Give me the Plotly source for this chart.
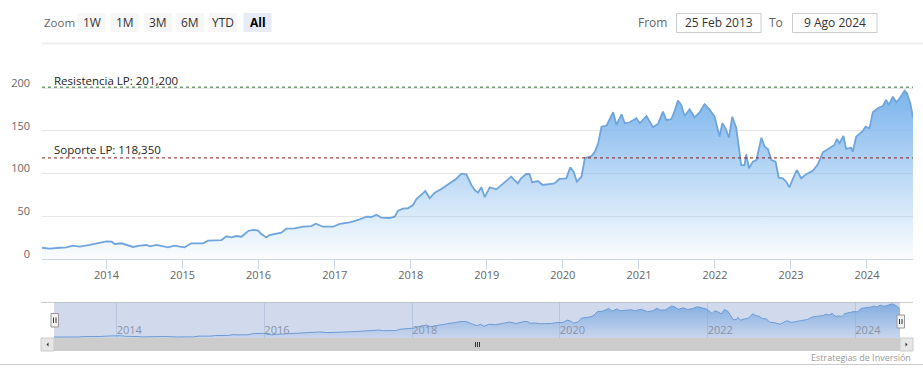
import plotly.graph_objects as go

W, H = 923, 379

# ---------------- data ----------------
dates = [
    "2013-02-25", "2013-04-03", "2013-05-21", "2013-06-22", "2013-07-24", "2013-08-25",
    "2013-10-12", "2013-11-30", "2014-01-01", "2014-01-25", "2014-02-10", "2014-03-14",
    "2014-04-07", "2014-05-08", "2014-06-10", "2014-07-12", "2014-07-28", "2014-08-29",
    "2014-10-23", "2014-11-24", "2014-12-18", "2015-01-11", "2015-02-12", "2015-04-10",
    "2015-05-03", "2015-07-07", "2015-07-31", "2015-08-24", "2015-09-17", "2015-10-11",
    "2015-11-12", "2015-12-05", "2015-12-29", "2016-01-14", "2016-02-07", "2016-02-23",
    "2016-04-19", "2016-05-14", "2016-06-23", "2016-08-02", "2016-09-11", "2016-10-02",
    "2016-11-06", "2016-12-24", "2017-01-25", "2017-03-14", "2017-04-23", "2017-06-03",
    "2017-06-27", "2017-07-20", "2017-08-13", "2017-09-22", "2017-10-16", "2017-11-01",
    "2017-11-25", "2017-12-18", "2018-01-12", "2018-01-28", "2018-02-28", "2018-03-12",
    "2018-04-02", "2018-04-26", "2018-05-28", "2018-06-21", "2018-07-15", "2018-08-08",
    "2018-09-01", "2018-09-25", "2018-10-19", "2018-11-04", "2018-11-20", "2018-12-06",
    "2018-12-22", "2019-01-15", "2019-02-16", "2019-03-19", "2019-04-28", "2019-05-30",
    "2019-06-15", "2019-07-09", "2019-07-25", "2019-08-07", "2019-09-03", "2019-09-27",
    "2019-10-21", "2019-11-22", "2019-12-16", "2020-01-18", "2020-02-06", "2020-02-22",
    "2020-03-09", "2020-03-31", "2020-04-16", "2020-05-18", "2020-06-03", "2020-06-19",
    "2020-07-05", "2020-07-29", "2020-08-30", "2020-09-15", "2020-10-09", "2020-10-25",
    "2020-11-18", "2020-12-20", "2021-01-05", "2021-02-06", "2021-03-09", "2021-04-02",
    "2021-04-26", "2021-05-12", "2021-06-05", "2021-06-21", "2021-07-07", "2021-07-23",
    "2021-08-08", "2021-09-01", "2021-09-25", "2021-10-19", "2021-11-12", "2021-12-06",
    "2021-12-30", "2022-01-23", "2022-02-05", "2022-02-21", "2022-03-09", "2022-03-25",
    "2022-04-13", "2022-05-07", "2022-05-23", "2022-05-31", "2022-06-13", "2022-07-02",
    "2022-07-19", "2022-08-12", "2022-08-28", "2022-09-12", "2022-09-29", "2022-10-19",
    "2022-11-03", "2022-11-23", "2022-12-09", "2022-12-25", "2023-01-10", "2023-01-29",
    "2023-02-19", "2023-03-15", "2023-04-16", "2023-05-10", "2023-06-03", "2023-07-05",
    "2023-07-29", "2023-08-09", "2023-08-22", "2023-09-10", "2023-09-23", "2023-10-17",
    "2023-10-25", "2023-11-10", "2023-12-12", "2023-12-25", "2024-01-13", "2024-01-29",
    "2024-02-22", "2024-03-17", "2024-04-02", "2024-04-15", "2024-05-04", "2024-05-21",
    "2024-06-06", "2024-06-30", "2024-07-11", "2024-07-27", "2024-08-09",
]
values = [
    13.2, 12.1, 13.2, 13.7, 15.6, 14.4,
    16.4, 19.5, 20.7, 20.3, 17.6, 18.4,
    16.4, 14.1, 15.6, 16.4, 14.9, 16.4,
    13.7, 15.6, 14.4, 13.7, 18.4, 18.4,
    21.4, 22.2, 26.6, 25.4, 26.9, 26.1,
    32.8, 34.0, 33.6, 29.3, 25.2, 28.1,
    30.8, 35.5, 35.9, 37.8, 38.6, 41.3,
    37.8, 37.8, 41.0, 43.0, 45.7, 49.5,
    49.2, 51.9, 48.4, 48.0, 49.5, 56.6,
    58.9, 59.4, 63.2, 70.3, 76.9, 79.6,
    71.1, 77.6, 82.0, 86.3, 89.8, 94.0,
    99.9, 99.2, 86.7, 80.8, 77.6, 84.0,
    72.5, 84.0, 81.6, 87.8, 96.4, 88.6,
    94.5, 99.5, 99.5, 89.8, 91.3, 86.7,
    87.8, 88.6, 93.7, 94.5, 107.4, 102.2,
    90.5, 96.4, 117.9, 120.6, 125.6, 135.5,
    154.9, 156.1, 171.8, 156.9, 169.4, 158.9,
    160.1, 164.8, 158.9, 167.4, 154.2, 158.1,
    172.5, 162.8, 163.6, 173.3, 185.4, 180.3,
    167.4, 175.3, 165.9, 171.5, 181.3, 174.9,
    166.6, 143.2, 158.9, 153.0, 142.0, 166.6,
    153.7, 110.0, 110.0, 122.6, 106.2, 113.9,
    115.9, 142.0, 131.5, 128.8, 115.9, 113.9,
    95.2, 94.5, 90.5, 84.0, 93.7, 104.2,
    94.5, 99.2, 103.4, 110.9, 124.9, 130.3,
    133.5, 140.5, 135.5, 144.0, 128.8, 130.3,
    125.6, 143.2, 149.9, 154.9, 153.0, 171.8,
    176.5, 179.2, 186.2, 180.3, 190.0, 183.5,
    188.2, 197.0, 194.0, 182.3, 165.5,
]

resistance_value = 201.2
support_value = 118.35
resistance_label = "Resistencia LP: 201,200"
support_label = "Soporte LP: 118,350"
y_tick_values = [0, 50, 100, 150, 200]
main_tick_dates = ["2014-01-01", "2015-01-01", "2016-01-01", "2017-01-01", "2018-01-01",
                   "2019-01-01", "2020-01-01", "2021-01-01", "2022-01-01", "2023-01-01",
                   "2024-01-01"]
main_tick_labels = ["2014", "2015", "2016", "2017", "2018", "2019", "2020", "2021",
                    "2022", "2023", "2024"]
nav_tick_dates = ["2014-01-01", "2016-01-01", "2018-01-01", "2020-01-01", "2022-01-01",
                  "2024-01-01"]
nav_tick_labels = ["2014", "2016", "2018", "2020", "2022", "2024"]
zoom_buttons = ["1W", "1M", "3M", "6M", "YTD", "All"]
range_from = "25 Feb 2013"
range_to = "9 Ago 2024"
start_date = "2013-02-25"
end_date = "2024-08-09"
credits_text = "Estrategias de Inversión"

FONT = "Open Sans"


def fx(p):
    return p / W


def fy(p):
    return 1 - p / H


LINE_COLOR = "#6fa5dc"
grad = dict(type="vertical", start=0, stop=195,
            colorscale=[[0, "rgba(124,181,236,0.03)"], [1, "rgba(124,181,236,1)"]])

fig = go.Figure()
fig.add_trace(go.Scatter(
    x=dates, y=values, mode="lines", fill="tozeroy", fillgradient=grad,
    line=dict(color=LINE_COLOR, width=1.8), hoverinfo="skip", xaxis="x", yaxis="y",
    showlegend=False))
fig.add_trace(go.Scatter(
    x=dates, y=values, mode="lines", fill="tozeroy",
    fillgradient=dict(type="vertical", start=0, stop=195,
                      colorscale=[[0, "rgba(124,181,236,0.05)"], [1, "rgba(124,181,236,0.85)"]]),
    line=dict(color=LINE_COLOR, width=1), hoverinfo="skip", xaxis="x2", yaxis="y2",
    showlegend=False))

shapes = []
annotations = []

# toolbar separator line
shapes.append(dict(type="line", xref="paper", yref="paper", x0=fx(42), x1=fx(923),
                   y0=fy(43.5), y1=fy(43.5), line=dict(color="#eeeeee", width=2)))

# zoom label
annotations.append(dict(xref="paper", yref="paper", x=fx(42), y=fy(22.5), text="Zoom",
                        showarrow=False, xanchor="left", yanchor="middle",
                        font=dict(family=FONT, size=11.5, color="#666666")))
btn_centers = [91.5, 124.5, 158, 190, 223, 257.5]
for label, cx in zip(zoom_buttons, btn_centers):
    active = label == "All"
    shapes.append(dict(type="rect", xref="paper", yref="paper",
                       x0=fx(cx - 14), x1=fx(cx + 14), y0=fy(32), y1=fy(13),
                       fillcolor="#e6ebf5" if active else "#f7f7f7", line=dict(width=0),
                       layer="below"))
    annotations.append(dict(xref="paper", yref="paper", x=fx(cx), y=fy(22.5),
                            text="<b>%s</b>" % label if active else label, showarrow=False,
                            xanchor="center", yanchor="middle",
                            font=dict(family=FONT, size=12,
                                      color="#000000" if active else "#333333")))

# from / to inputs
annotations.append(dict(xref="paper", yref="paper", x=fx(669), y=fy(22.5), text="From",
                        showarrow=False, xanchor="right", yanchor="middle",
                        font=dict(family=FONT, size=12, color="#666666")))
annotations.append(dict(xref="paper", yref="paper", x=fx(784.5), y=fy(22.5), text="To",
                        showarrow=False, xanchor="right", yanchor="middle",
                        font=dict(family=FONT, size=12, color="#666666")))
for (x0, x1, txt) in [(676.5, 761, range_from), (792.5, 877, range_to)]:
    shapes.append(dict(type="rect", xref="paper", yref="paper", x0=fx(x0), x1=fx(x1),
                       y0=fy(32.5), y1=fy(13.5), fillcolor="#ffffff",
                       line=dict(color="#cccccc", width=1)))
    annotations.append(dict(xref="paper", yref="paper", x=fx((x0 + x1) / 2), y=fy(22.5),
                            text=txt, showarrow=False, xanchor="center", yanchor="middle",
                            font=dict(family=FONT, size=12, color="#333333")))

# plot lines
for val, col, lab, ys in [(resistance_value, "#2f6b2f", resistance_label, -3),
                          (support_value, "#8a1c1c", support_label, -1)]:
    shapes.append(dict(type="line", xref="x domain", yref="y", x0=0, x1=1, y0=val, y1=val,
                       line=dict(color=col, width=1, dash="dot"), layer="above"))
    annotations.append(dict(xref="paper", yref="y", x=fx(51.5), y=val, text=lab,
                            showarrow=False, xanchor="left", yanchor="bottom", yshift=ys,
                            font=dict(family=FONT, size=11.5, color="#222222")))

# navigator outline and mask
shapes.append(dict(type="line", xref="paper", yref="paper", x0=fx(41), x1=fx(913),
                   y0=fy(302.5), y1=fy(302.5), line=dict(color="#cccccc", width=1)))
shapes.append(dict(type="rect", xref="x2", yref="y2 domain", x0=start_date, x1=end_date,
                   y0=0, y1=1, fillcolor="rgba(102,133,194,0.3)", line=dict(width=0),
                   layer="above"))

# scrollbar
shapes.append(dict(type="rect", xref="paper", yref="paper", x0=fx(41), x1=fx(913),
                   y0=fy(351), y1=fy(338), fillcolor="#f2f2f2", line=dict(width=0)))
shapes.append(dict(type="rect", xref="paper", yref="paper", x0=fx(54), x1=fx(900),
                   y0=fy(351), y1=fy(338), fillcolor="#cccccc", line=dict(width=0)))
for bx0, bx1 in [(41, 54), (900, 913)]:
    shapes.append(dict(type="rect", xref="paper", yref="paper", x0=fx(bx0), x1=fx(bx1),
                       y0=fy(351), y1=fy(338), fillcolor="#e6e6e6",
                       line=dict(color="#cccccc", width=1)))
# arrows
shapes.append(dict(type="path", xref="paper", yref="paper",
                   path="M %f %f L %f %f L %f %f Z" % (fx(46.5), fy(344.5), fx(48.5), fy(342.5),
                                                      fx(48.5), fy(346.5)),
                   fillcolor="#333333", line=dict(width=0)))
shapes.append(dict(type="path", xref="paper", yref="paper",
                   path="M %f %f L %f %f L %f %f Z" % (fx(907.5), fy(344.5), fx(905.5), fy(342.5),
                                                      fx(905.5), fy(346.5)),
                   fillcolor="#333333", line=dict(width=0)))
# rifles
for rx in [475.5, 477.5, 479.5]:
    shapes.append(dict(type="line", xref="paper", yref="paper", x0=fx(rx), x1=fx(rx),
                       y0=fy(342), y1=fy(347), line=dict(color="#333333", width=1)))

# navigator handles
for hx0, hx1, hy0, hy1 in [(51, 58.5, 313.5, 327), (897, 904.5, 315, 328)]:
    shapes.append(dict(type="rect", xref="paper", yref="paper", x0=fx(hx0), x1=fx(hx1),
                       y0=fy(hy1), y1=fy(hy0), fillcolor="#f2f2f2",
                       line=dict(color="#999999", width=1)))
    for lx in [hx0 + 2.5, hx0 + 5]:
        shapes.append(dict(type="line", xref="paper", yref="paper", x0=fx(lx), x1=fx(lx),
                           y0=fy(hy0 + 4), y1=fy(hy1 - 4),
                           line=dict(color="#333333", width=1)))

# bottom border
shapes.append(dict(type="line", xref="paper", yref="paper", x0=0, x1=1,
                   y0=fy(364.5), y1=fy(364.5), line=dict(color="#cccccc", width=1)))

annotations.append(dict(xref="paper", yref="paper", x=fx(913), y=fy(357), text=credits_text,
                        showarrow=False, xanchor="right", yanchor="middle",
                        font=dict(family=FONT, size=9, color="#999999")))

fig.update_layout(
    width=W, height=H, margin=dict(l=0, r=0, t=0, b=0, autoexpand=False),
    paper_bgcolor="#ffffff", plot_bgcolor="rgba(0,0,0,0)",
    font=dict(family=FONT),
    shapes=shapes, annotations=annotations, showlegend=False,
    xaxis=dict(domain=[fx(42), fx(913)], range=[start_date, end_date], type="date",
               tickvals=main_tick_dates, ticktext=main_tick_labels,
               ticks="outside", ticklen=9, tickcolor="#ccd6eb", showgrid=False,
               showline=True, linecolor="#ccd6eb", linewidth=1, zeroline=False,
               tickfont=dict(family=FONT, size=11, color="#666666"),
               ticklabelstandoff=-3, fixedrange=True),
    yaxis=dict(domain=[fy(259), fy(71.1)], range=[0, 220], tickvals=y_tick_values,
               showgrid=True, gridcolor="#e6e6e6", zeroline=False, showline=False,
               ticks="", tickfont=dict(family=FONT, size=11, color="#666666"),
               ticklabelshift=-5, ticklabelstandoff=11, fixedrange=True),
    xaxis2=dict(domain=[fx(54), fx(900)], range=[start_date, end_date], type="date",
                anchor="y2", tickvals=nav_tick_dates, ticktext=nav_tick_labels,
                ticks="", showgrid=True, gridcolor="#dde3ee", showline=False,
                zeroline=False, ticklabelposition="inside right", ticklabelstandoff=-4,
                tickfont=dict(family=FONT, size=11, color="#999999"), fixedrange=True),
    yaxis2=dict(domain=[fy(338), fy(302.5)], range=[8, 205], anchor="x2",
                showgrid=False, showticklabels=False, zeroline=False, showline=False,
                fixedrange=True),
)

post = """
document.documentElement.style.margin='0';
document.documentElement.style.padding='0';
document.documentElement.style.overflow='hidden';
document.body.style.margin='0';
document.body.style.padding='0';
document.body.style.overflow='hidden';
"""

fig.write_html("out.html", config={"displayModeBar": False, "responsive": False},
               post_script=post)
